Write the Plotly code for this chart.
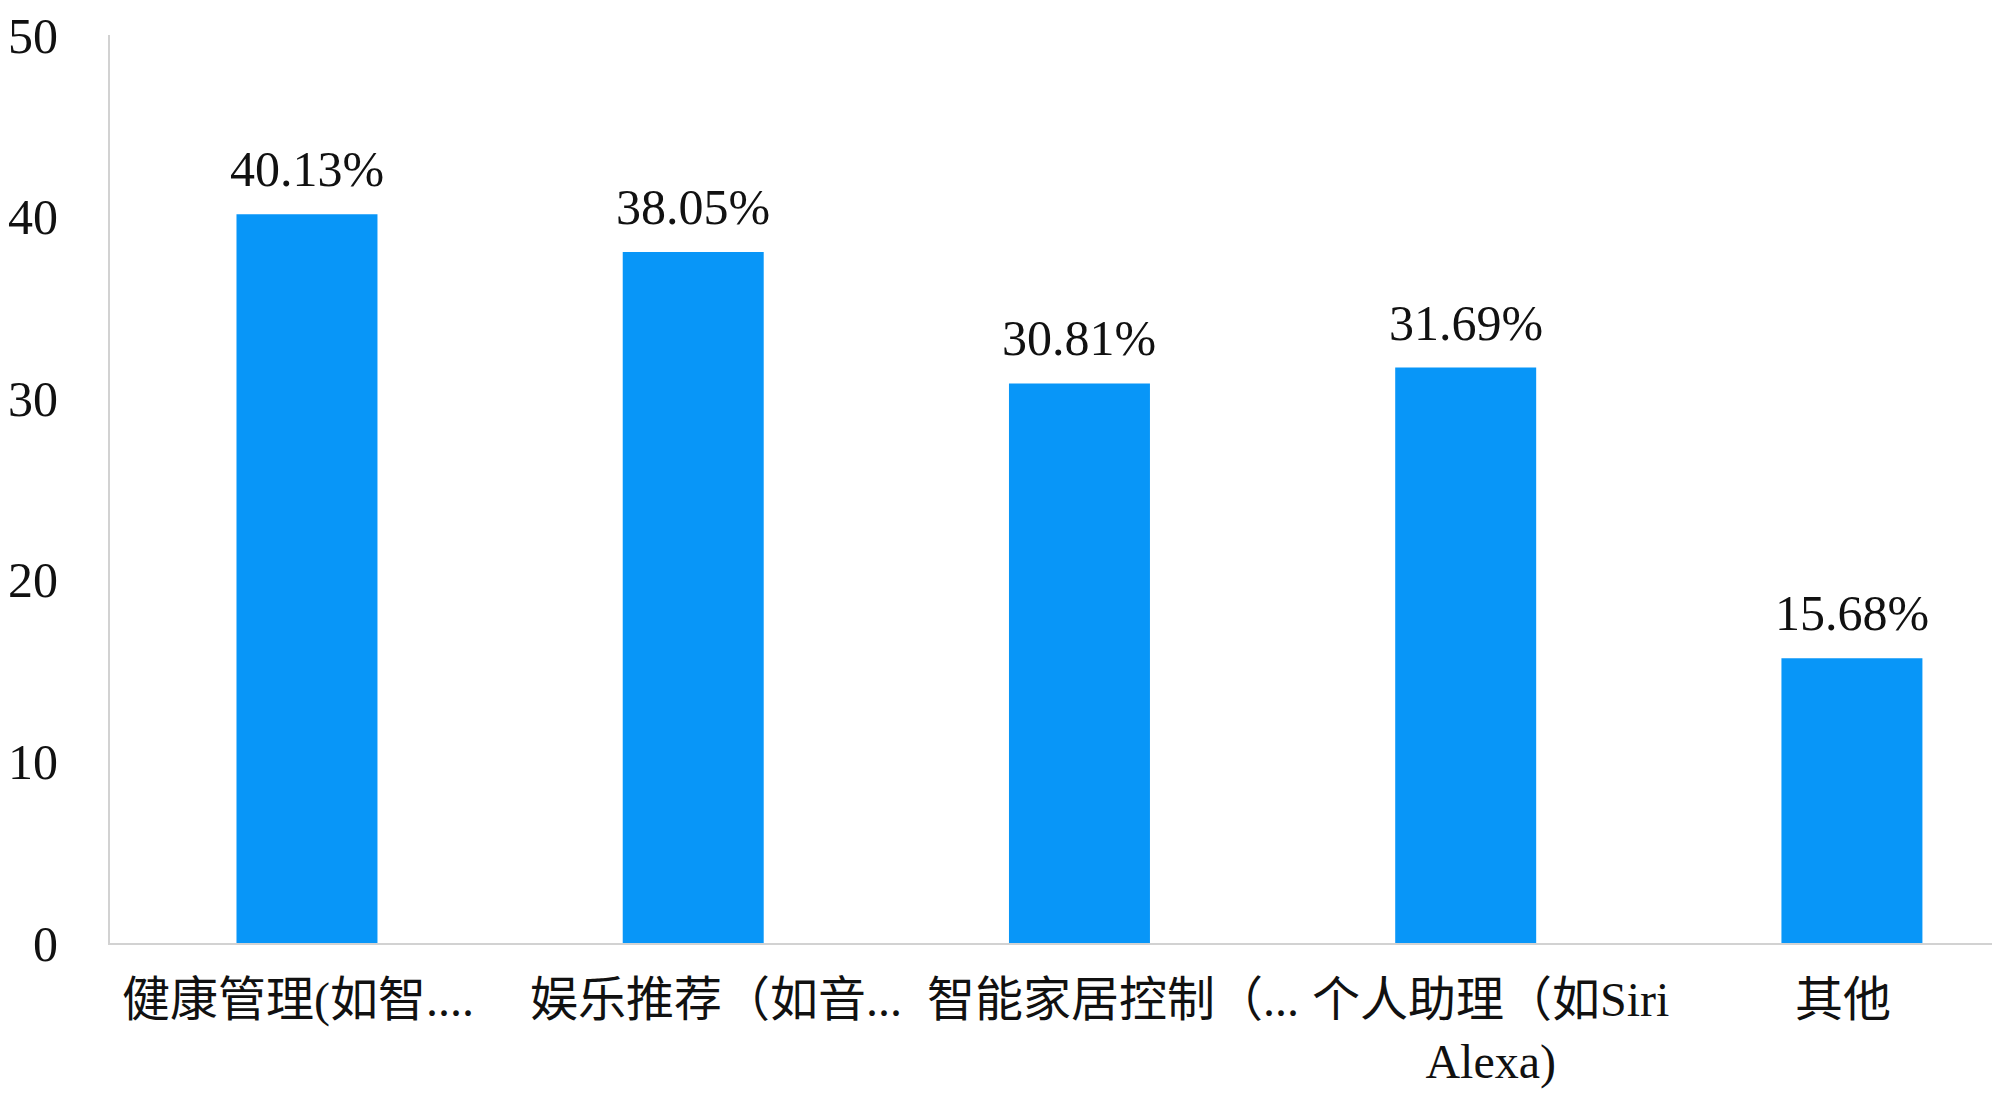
import plotly.graph_objects as go

categories = ["健康管理(如智....", "娱乐推荐（如音...", "智能家居控制（...", "个人助理（如Siri<br>Alexa)", "其他"]
values = [40.13, 38.05, 30.81, 31.69, 15.68]
value_labels = ["40.13%", "38.05%", "30.81%", "31.69%", "15.68%"]
y_ticks = [0, 10, 20, 30, 40, 50]

font_family = "Liberation Serif, Times New Roman, Noto Sans CJK SC, serif"

trace = go.Bar(
    x=categories,
    y=values,
    width=0.365,
    marker=dict(color="#0896F8", line=dict(width=0)),
)

fig = go.Figure(data=[trace])

# value labels above bars
for cat, val, lab in zip(categories, values, value_labels):
    fig.add_annotation(
        x=cat, y=val, text=lab, showarrow=False,
        yanchor="bottom", yshift=15,
        font=dict(family=font_family, size=50, color="#111111"),
    )

# category labels under the axis (the original ones sit a little off-centre)
cat_label_shift = [-9, 23, 34, 25, -9]
for cat, dx in zip(categories, cat_label_shift):
    fig.add_annotation(
        x=cat, y=0, text=cat, showarrow=False,
        yanchor="top", yshift=-28, xshift=dx,
        font=dict(family=font_family, size=48, color="#111111"),
    )

# page body has an 8px margin, so the figure is a bit smaller than the window
fig.update_layout(
    width=1992, height=1087,
    margin=dict(l=102, r=4, t=27, b=152),
    plot_bgcolor="white",
    paper_bgcolor="white",
    showlegend=False,
    font=dict(family=font_family, size=48, color="#111111"),
    xaxis=dict(
        range=[-0.51, 4.373],
        showline=True, linecolor="#d2d2d2", linewidth=2,
        showgrid=False, ticks="",
        showticklabels=False,
        automargin=False,
    ),
    yaxis=dict(
        range=[0, 50],
        tickvals=y_ticks,
        showline=True, linecolor="#d2d2d2", linewidth=2,
        showgrid=False, zeroline=False, ticks="",
        ticklabelstandoff=40,
        ticklabeloverflow="allow",
        automargin=False,
        tickfont=dict(family=font_family, size=50, color="#111111"),
    ),
)

fig.write_html("out.html")
